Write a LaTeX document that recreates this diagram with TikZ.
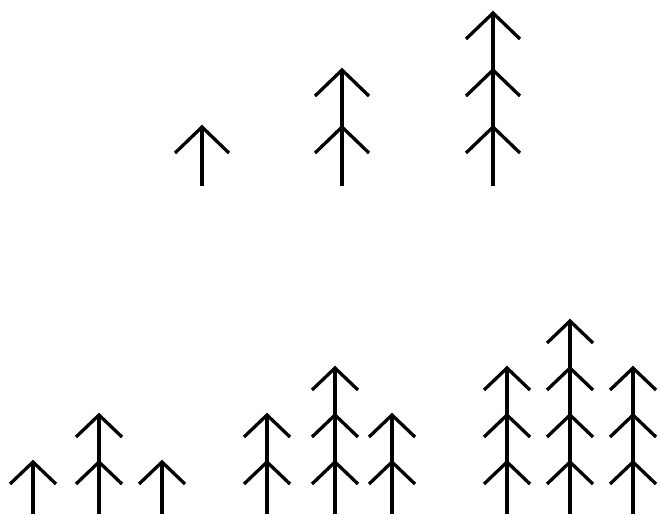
\documentclass[tikz,border=0pt]{standalone}

\begin{document}
\begin{tikzpicture}[x=1pt, y=-1pt, line width=3.3pt,
  big/.style={line join=miter},
  small/.style={line join=miter}]
  \useasboundingbox (0,0) rectangle (661,514);

  % upper row: one, two and three branches
  \foreach \x/\n in {202/1, 342/2, 493/3} {
    \draw[big] (\x,186) -- (\x,{127-57*(\n-1)});
    \foreach \k in {1,...,\n}
      \draw[big] ({\x-27},{127-57*(\k-1)+26}) -- (\x,{127-57*(\k-1)})
                 -- ({\x+27},{127-57*(\k-1)+26});
  }

  % lower row: three groups of three trees
  \foreach \x/\n in {33/1, 99/2, 162/1, 267/2, 335/3, 392/2,
                     507/3, 570/4, 633/3} {
    \draw[small] (\x,514) -- (\x,{462-47*(\n-1)});
    \foreach \k in {1,...,\n}
      \draw[small] ({\x-23},{462-47*(\k-1)+22}) -- (\x,{462-47*(\k-1)})
                   -- ({\x+23},{462-47*(\k-1)+22});
  }
\end{tikzpicture}
\end{document}
